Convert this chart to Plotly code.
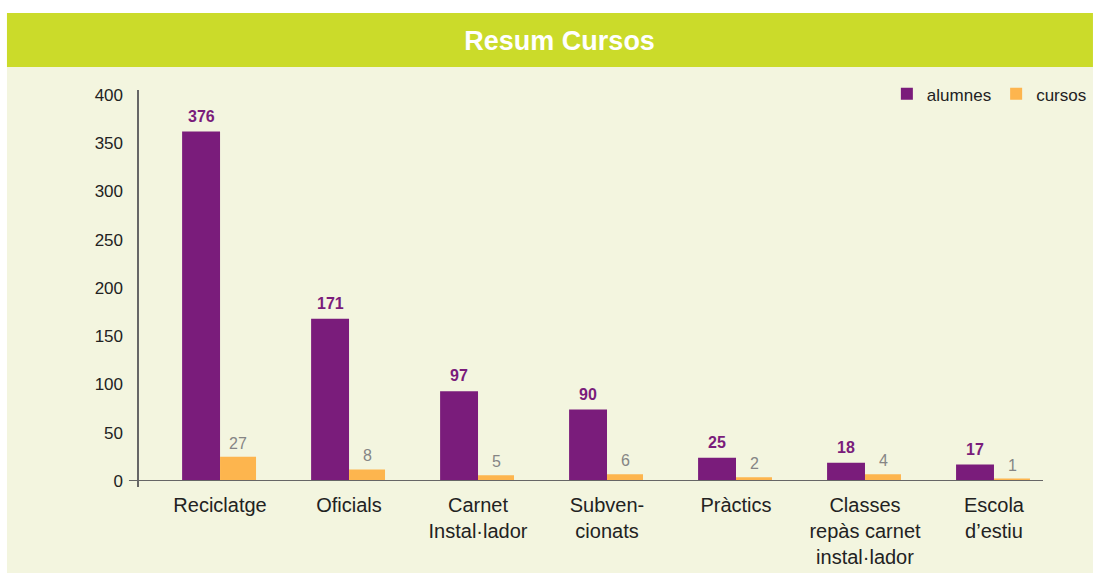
import plotly.graph_objects as go

categories = ['Reciclatge', 'Oficials', 'Carnet<br>Instal·lador', 'Subven-<br>cionats',
              'Pràctics', 'Classes<br>repàs carnet<br>instal·lador', 'Escola<br>d’estiu']
# bar heights as drawn in the picture, and the numbers printed above them
alumnes = [362, 168, 93, 74, 24, 19, 17]
cursos = [25, 12, 6, 7, 4, 7, 2.5]
alumnes_labels = ['376', '171', '97', '90', '25', '18', '17']
cursos_labels = ['27', '8', '5', '6', '2', '4', '1']
y_ticks = [0, 50, 100, 150, 200, 250, 300, 350, 400]

purple = '#7a1c7b'
orange = '#fdb54e'
green = '#cbdb2a'
cream = '#f3f5df'
font = 'Liberation Sans, Arial, sans-serif'

x = list(range(len(categories)))

fig = go.Figure()
fig.add_trace(go.Bar(x=x, y=alumnes, name='alumnes', marker_color=purple,
                     offset=-0.294, width=0.294, marker_line_width=0))
fig.add_trace(go.Bar(x=x, y=cursos, name='cursos', marker_color=orange,
                     offset=0, width=0.279, marker_line_width=0))

# value labels over the bars
for i in x:
    fig.add_annotation(x=i - 0.147, y=alumnes[i], text='<b>%s</b>' % alumnes_labels[i],
                       showarrow=False, yanchor='bottom', yshift=5,
                       font=dict(family=font, size=16, color=purple))
    fig.add_annotation(x=i + 0.14, y=cursos[i], text=cursos_labels[i],
                       showarrow=False, yanchor='bottom', yshift=3,
                       font=dict(family=font, size=16, color='#858585'))

# title band and cream panel
fig.add_shape(type='rect', xref='paper', yref='paper', x0=-0.1448, x1=1.0552,
              y0=-0.2353, y1=1.0588, fillcolor=cream, line_width=0, layer='below')
fig.add_shape(type='rect', xref='paper', yref='paper', x0=-0.1448, x1=1.0552,
              y0=1.0588, y1=1.197, fillcolor=green, line_width=0, layer='below')
# axis lines
fig.add_shape(type='line', xref='paper', yref='paper', x0=0, x1=0, y0=-0.0153, y1=1,
              line=dict(color='#666666', width=2))
fig.add_shape(type='line', xref='paper', yref='y', x0=-0.01, x1=1, y0=0, y1=0,
              line=dict(color='#666666', width=2))

fig.update_layout(
    width=1093, height=573,
    margin=dict(l=138, r=50, t=90, b=92, autoexpand=False),
    paper_bgcolor='white',
    plot_bgcolor='rgba(0,0,0,0)',
    barmode='overlay',
    title=dict(text='<b>Resum Cursos</b>', x=0.512, y=0.930, xanchor='center', yanchor='middle',
               font=dict(family=font, size=27, color='white')),
    legend=dict(orientation='h', x=1.054, xanchor='right', y=1.035, yanchor='top',
                bgcolor='rgba(0,0,0,0)', font=dict(family=font, size=17, color='#222222'),
                itemwidth=30, tracegroupgap=0),
    font=dict(family=font, color='#222222'),
)
fig.update_xaxes(range=[-0.636, 6.38], tickvals=x, ticktext=categories, showgrid=False,
                 zeroline=False, showline=False, ticks='', ticklabelstandoff=10,
                 tickfont=dict(family=font, size=20, color='#222222'))
fig.update_yaxes(range=[0, 405], tickvals=y_ticks, showgrid=False, zeroline=False,
                 showline=False, ticks='', ticklabelstandoff=14,
                 tickfont=dict(family=font, size=17, color='#222222'))

fig.write_html('out.html', config={'displayModeBar': False},
               post_script="document.body.style.margin='0';")
